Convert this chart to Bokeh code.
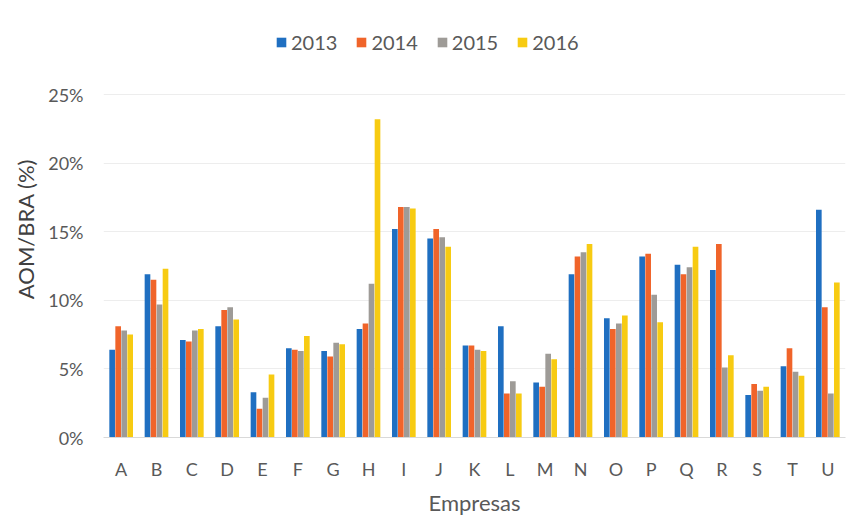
from bokeh.plotting import figure
from bokeh.models import ColumnDataSource, FactorRange, Range1d, Legend, LegendItem, NumeralTickFormatter, FixedTicker
from bokeh.transform import dodge
from bokeh.embed import file_html
from bokeh.resources import INLINE

empresas = ["A", "B", "C", "D", "E", "F", "G", "H", "I", "J", "K",
            "L", "M", "N", "O", "P", "Q", "R", "S", "T", "U"]
years = ["2013", "2014", "2015", "2016"]
v2013 = [6.4, 11.9, 7.1, 8.1, 3.3, 6.5, 6.3, 7.9, 15.2, 14.5, 6.7,
         8.1, 4.0, 11.9, 8.7, 13.2, 12.6, 12.2, 3.1, 5.2, 16.6]
v2014 = [8.1, 11.5, 7.0, 9.3, 2.1, 6.4, 5.9, 8.3, 16.8, 15.2, 6.7,
         3.2, 3.7, 13.2, 7.9, 13.4, 11.9, 14.1, 3.9, 6.5, 9.5]
v2015 = [7.8, 9.7, 7.8, 9.5, 2.9, 6.3, 6.9, 11.2, 16.8, 14.6, 6.4,
         4.1, 6.1, 13.5, 8.3, 10.4, 12.4, 5.1, 3.4, 4.8, 3.2]
v2016 = [7.5, 12.3, 7.9, 8.6, 4.6, 7.4, 6.8, 23.2, 16.7, 13.9, 6.3,
         3.2, 5.7, 14.1, 8.9, 8.4, 13.9, 6.0, 3.7, 4.5, 11.3]
y_ticks = [0, 5, 10, 15, 20, 25]

colors = ["#1F6FC1", "#F0642A", "#9E9B97", "#F7CB12"]
series = [v2013, v2014, v2015, v2016]
offsets = [-0.255, -0.085, 0.085, 0.255]

src = ColumnDataSource(dict(
    emp=empresas,
    **{"y" + yr: [v / 100.0 for v in vals] for yr, vals in zip(years, series)}
))

text_color = "#595959"
font = "Lato"

# frame extends above 25% to leave room for the legend inside the frame
frame_h = 417
axis_h = 343
y_top = 0.25 * frame_h / axis_h

p = figure(x_range=FactorRange(*empresas, range_padding=0),
           y_range=Range1d(0, y_top),
           frame_width=742, frame_height=frame_h,
           min_border_left=103, min_border_right=10,
           min_border_top=20, min_border_bottom=74,
           output_backend="svg", toolbar_location=None)
p.outline_line_color = None
p.background_fill_color = "white"
p.border_fill_color = "white"

renderers = []
for yr, off, col in zip(years, offsets, colors):
    r = p.vbar(x=dodge("emp", off, range=p.x_range), top="y" + yr, width=0.16,
               source=src, fill_color=col, line_color=None)
    renderers.append(r)

p.yaxis.ticker = FixedTicker(ticks=[t / 100.0 for t in y_ticks])
p.yaxis.formatter = NumeralTickFormatter(format="0%")
p.yaxis.axis_line_color = None
p.yaxis.major_tick_line_color = None
p.yaxis.minor_tick_line_color = None
p.yaxis.major_tick_out = 0
p.yaxis.major_label_standoff = 20
p.yaxis.axis_label = "AOM/BRA (%)"
p.yaxis.axis_label_standoff = 6
p.yaxis.axis_label_text_font = font
p.yaxis.axis_label_text_font_size = "22px"
p.yaxis.axis_label_text_font_style = "normal"
p.yaxis.axis_label_text_color = "#404040"
p.yaxis.major_label_text_font = font
p.yaxis.major_label_text_font_size = "18px"
p.yaxis.major_label_text_color = text_color

p.xaxis.axis_line_color = "#d9d9d9"
p.xaxis.major_tick_line_color = None
p.xaxis.major_tick_out = 0
p.xaxis.major_label_standoff = 20
p.xaxis.axis_label = "Empresas"
p.xaxis.axis_label_standoff = 6
p.xaxis.axis_label_text_font = font
p.xaxis.axis_label_text_font_size = "22px"
p.xaxis.axis_label_text_font_style = "normal"
p.xaxis.axis_label_text_color = text_color
p.xaxis.major_label_text_font = font
p.xaxis.major_label_text_font_size = "18px"
p.xaxis.major_label_text_color = text_color

p.xgrid.grid_line_color = None
p.ygrid.grid_line_color = "#ededed"

legend = Legend(items=[LegendItem(label=yr, renderers=[r]) for yr, r in zip(years, renderers)],
                orientation="horizontal", location=(172, 383),
                glyph_width=12, glyph_height=12, label_standoff=4, spacing=18,
                padding=0, margin=0, border_line_color=None,
                background_fill_alpha=0,
                label_text_font=font, label_text_font_size="20px",
                label_text_color=text_color)
p.add_layout(legend, "center")

open("out.html", "w").write(file_html(p, INLINE))
